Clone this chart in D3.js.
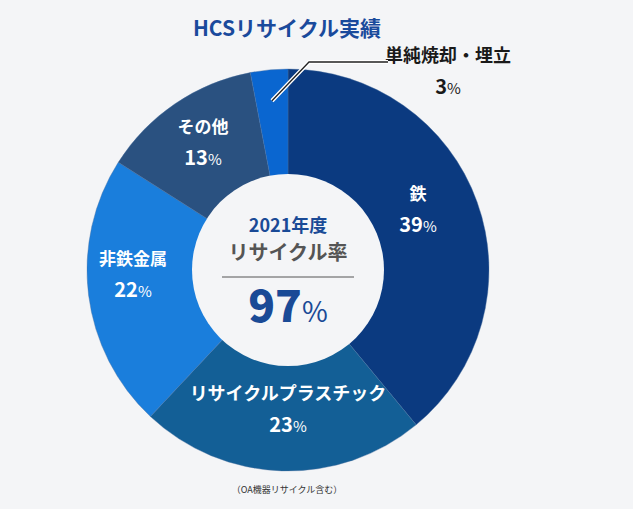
<!DOCTYPE html>
<html><head><meta charset="utf-8">
<script src="https://cdn.jsdelivr.net/npm/d3@7"></script>
<style>body{margin:0;background:#f4f5f7}text{font-family:"Noto Sans CJK JP",sans-serif}</style>
</head><body><svg id="c" width="633" height="509"></svg>
<script>
const categories = ['鉄', 'リサイクルプラスチック', '非鉄金属', 'その他', '単純焼却・埋立'];
const shares = [39, 23, 22, 13, 3];
const colors = ['#0b3a80', '#135f96', '#1a7edc', '#2a5180', '#0a66d0'];
// label anchor points, in px relative to the chart centre
const labelPos = [[130, -70], [0, 130], [-155, -5], [-85, -137], [160, -208]];

const svg = d3.select('#c');
const cx = 288, cy = 270;
const g = svg.append('g').attr('transform', `translate(${cx},${cy})`);

const pie = d3.pie().sort(null).value(d => d)(shares);
const arc = d3.arc().innerRadius(0).outerRadius(201);

g.selectAll('path').data(pie).enter().append('path')
  .attr('d', arc)
  .attr('fill', (d, i) => colors[i])
  .attr('stroke', '#4a6fa0').attr('stroke-width', 0.4);

g.append('circle').attr('r', 96).attr('fill', '#f4f5f7');

function label(i, fill, size) {
  const [x, y] = labelPos[i];
  const t = g.append('text').attr('x', x).attr('y', y).attr('text-anchor', 'middle')
    .attr('fill', fill).attr('font-weight', 700);
  t.append('tspan').attr('x', x).attr('font-size', size).text(categories[i]);
  const p = t.append('tspan').attr('x', x).attr('dy', 32).attr('font-size', 20).text(shares[i]);
  p.append('tspan').attr('font-size', 15).attr('font-weight', 400).text('%');
}
label(0, '#fff', 17);
label(1, '#fff', 18);
label(2, '#fff', 17);
label(3, '#fff', 17);
label(4, '#1a1a1a', 18);

// leader line for the small slice
const mid = (pie[4].startAngle + pie[4].endAngle) / 2;
const r0 = 170;
const p0 = [Math.sin(mid) * r0, -Math.cos(mid) * r0];
g.append('path')
  .attr('d', `M${p0[0]},${p0[1]}L${21},${-208}L${100},${-208}`)
  .attr('fill', 'none').attr('stroke', '#fff').attr('stroke-width', 4);
g.append('path')
  .attr('d', `M${p0[0]},${p0[1]}L${21},${-208}L${100},${-208}`)
  .attr('fill', 'none').attr('stroke', '#222').attr('stroke-width', 1.3);

// centre text
g.append('text').attr('y', -38).attr('text-anchor', 'middle').attr('font-size', 18)
  .attr('font-weight', 700).attr('fill', '#1a4a96').text('2021年度');
g.append('text').attr('y', -10).attr('text-anchor', 'middle').attr('font-size', 20)
  .attr('font-weight', 700).attr('fill', '#555').text('リサイクル率');
g.append('line').attr('x1', -66).attr('x2', 66).attr('y1', 7).attr('y2', 7)
  .attr('stroke', '#555').attr('stroke-width', 1);
const big = g.append('text').attr('y', 52).attr('text-anchor', 'middle')
  .attr('font-weight', 900).attr('fill', '#1a4a96');
big.append('tspan').attr('font-size', 44).text('97');
big.append('tspan').attr('font-size', 28).attr('font-weight', 400).text('%');

svg.append('text').attr('x', 287).attr('y', 36).attr('text-anchor', 'middle')
  .attr('font-size', 21).attr('font-weight', 700).attr('fill', '#1a4a9c').text('HCSリサイクル実績');
svg.append('text').attr('x', 287).attr('y', 493).attr('text-anchor', 'middle')
  .attr('font-size', 9).attr('fill', '#333').text('（OA機器リサイクル含む）');
</script></body></html>
